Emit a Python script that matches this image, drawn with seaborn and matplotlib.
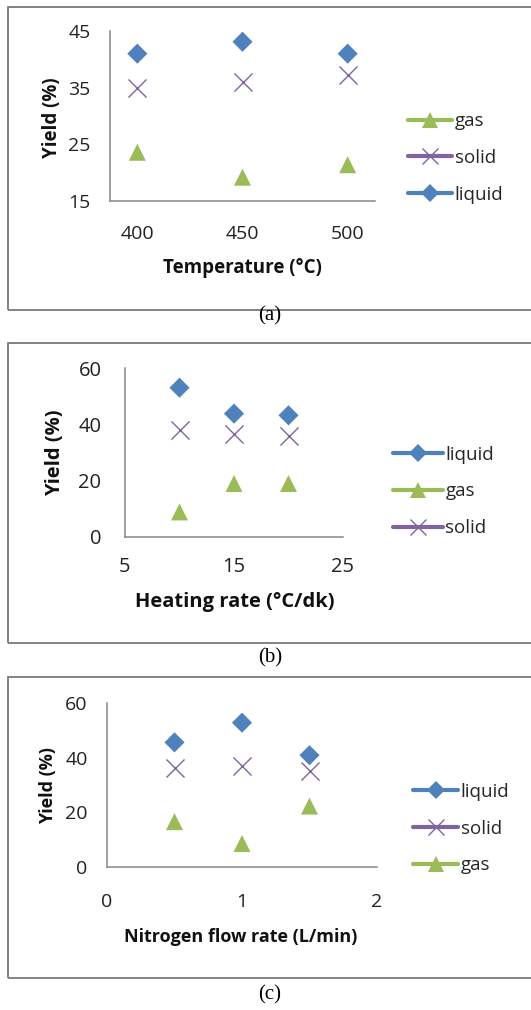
import numpy as np
import pandas as pd
import seaborn as sns
import matplotlib
matplotlib.use("Agg")
import matplotlib.pyplot as plt
from matplotlib.lines import Line2D
from matplotlib.patches import Rectangle

# ---------------- data ----------------
temp_x = [400, 450, 500]
temp_liquid = [41.0, 43.1, 41.0]
temp_solid = [35.0, 36.0, 37.2]
temp_gas = [23.6, 19.2, 21.4]

rate_x = [10, 15, 20]
rate_liquid = [53.0, 43.8, 43.2]
rate_solid = [37.9, 36.5, 35.7]
rate_gas = [8.9, 19.0, 19.0]

flow_x = [0.5, 1.0, 1.5]
flow_liquid = [45.6, 52.8, 40.9]
flow_solid = [36.3, 37.1, 35.2]
flow_gas = [16.6, 8.6, 22.3]

xlabels = ["Temperature (°C)", "Heating rate (°C/dk)", "Nitrogen flow rate (L/min)"]
ylabel = "Yield (%)"
captions = ["(a)", "(b)", "(c)"]
legend_orders = [["gas", "solid", "liquid"],
                 ["liquid", "gas", "solid"],
                 ["liquid", "solid", "gas"]]

# ---------------- style ----------------
sns.set_theme(style="white")
plt.rcParams["font.family"] = ["Open Sans", "DejaVu Sans"]

COL = {"liquid": "#4F81BD", "solid": "#8064A2", "gas": "#9BBB59"}
MARK = {"liquid": "D", "solid": "x", "gas": "^"}
SIZE = {"liquid": 105, "solid": 170, "gas": 150}
LMS = {"liquid": 9, "solid": 12, "gas": 11}
AXC = "#868686"

W, H = 531, 1010
fig = plt.figure(figsize=(W / 100, H / 100), dpi=100)

def frac_rect(left, right, top, bottom):
    return [left / W, 1 - bottom / H, (right - left) / W, (bottom - top) / H]

panels = [
    dict(rect=frac_rect(110, 375, 31, 201), x=temp_x,
         data={"liquid": temp_liquid, "solid": temp_solid, "gas": temp_gas},
         xlim=(387, 513), ylim=(15, 45), yticks=[15, 25, 35, 45],
         xticks_major=list(np.linspace(387, 513, 6)), xticks_lab=[400, 450, 500],
         frame=(8, 7, 310), cap_y=316, leg=(408, 158), hl=2.35, ylab=(52, 118),
         xlab=(242, 268), xlab_fs=13.5, tick_fs=14, xpad=12, ypad=9),
    dict(rect=frac_rect(125, 343, 368, 537), x=rate_x,
         data={"liquid": rate_liquid, "solid": rate_solid, "gas": rate_gas},
         xlim=(5, 25), ylim=(0, 60), yticks=[0, 20, 40, 60],
         xticks_major=[5, 15, 25], xticks_lab=[5, 15, 25],
         frame=(8, 343, 643), cap_y=658, leg=(393, 491.5), hl=2.65, ylab=(55, 453),
         xlab=(235, 602), xlab_fs=14.5, tick_fs=14.5, xpad=9.5, ypad=12),
    dict(rect=frac_rect(107, 377, 703, 867), x=flow_x,
         data={"liquid": flow_liquid, "solid": flow_solid, "gas": flow_gas},
         xlim=(0, 2), ylim=(0, 60), yticks=[0, 20, 40, 60],
         xticks_major=[0, 1, 2], xticks_lab=[0, 1, 2],
         frame=(8, 677, 978), cap_y=995, leg=(413, 828.5), hl=2.4, ylab=(48, 785),
         xlab=(241, 937), xlab_fs=13, tick_fs=14, xpad=13.5, ypad=9),
]

for i, p in enumerate(panels):
    # outer frame
    fx, ftop, fbot = p["frame"]
    fig.patches.append(Rectangle((fx / W, 1 - fbot / H), 1.2, (fbot - ftop) / H,
                                 transform=fig.transFigure, fill=False,
                                 edgecolor="#7a7a7a", linewidth=1.3, zorder=0))
    ax = fig.add_axes(p["rect"])
    ax.set_facecolor("none")
    for name in ["liquid", "solid", "gas"]:
        df = pd.DataFrame({"x": p["x"], "y": p["data"][name]})
        kw = dict(linewidth=1.0) if name == "solid" else dict(edgecolor="none")
        sns.scatterplot(data=df, x="x", y="y", ax=ax, color=COL[name],
                        marker=MARK[name], s=SIZE[name], legend=False,
                        clip_on=False, zorder=3, **kw)
    ax.set_xlim(*p["xlim"])
    ax.set_ylim(*p["ylim"])
    ax.set_yticks(p["yticks"])
    ax.set_yticklabels([str(v) for v in p["yticks"]])
    fs = p["tick_fs"]
    if i == 0:
        ax.set_xticks(p["xticks_major"])
        ax.set_xticklabels([""] * len(p["xticks_major"]))
        ax.set_xticks(p["xticks_lab"], minor=True)
        ax.set_xticklabels([str(v) for v in p["xticks_lab"]], minor=True)
        ax.tick_params(axis="x", which="minor", length=0, pad=p["xpad"] + 5,
                       labelsize=fs, labelcolor="#222222")
    else:
        ax.set_xticks(p["xticks_major"])
        ax.set_xticklabels([str(v) for v in p["xticks_lab"]])
    ax.tick_params(axis="both", which="major", direction="out", length=5,
                   width=1, color=AXC, labelsize=fs, labelcolor="#222222")
    ax.tick_params(axis="x", which="major", pad=p["xpad"])
    ax.tick_params(axis="y", which="major", pad=p["ypad"])
    for s in ["top", "right"]:
        ax.spines[s].set_visible(False)
    for s in ["left", "bottom"]:
        ax.spines[s].set_color(AXC)
        ax.spines[s].set_linewidth(1.1)
    ax.set_xlabel(xlabels[i], fontsize=p["xlab_fs"], fontweight="bold",
                  color="#111111")
    ax.xaxis.label.set_verticalalignment("center")
    ax.xaxis.set_label_coords(p["xlab"][0] / W, 1 - p["xlab"][1] / H,
                              transform=fig.transFigure)
    ax.set_ylabel(ylabel, fontsize=p["xlab_fs"], fontweight="bold",
                  color="#111111")
    ax.yaxis.label.set_verticalalignment("center")
    ax.yaxis.set_label_coords(p["ylab"][0] / W, 1 - p["ylab"][1] / H,
                              transform=fig.transFigure)
    # legend
    handles = [Line2D([], [], color=COL[n], lw=3, marker=MARK[n],
                      markersize=LMS[n],
                      markeredgewidth=(1.0 if n == "solid" else 0))
               for n in legend_orders[i]]
    lx, ly = p["leg"]
    ax.legend(handles, legend_orders[i], loc="center left",
              bbox_to_anchor=(lx / W, 1 - ly / H), bbox_transform=fig.transFigure,
              frameon=False, fontsize=13.5, handlelength=p["hl"], handletextpad=0.15,
              labelspacing=1.0, borderpad=0, borderaxespad=0)
    # caption
    fig.text(270 / W, 1 - p["cap_y"] / H, captions[i], ha="center", va="center",
             fontsize=15, family="Liberation Serif", color="black")

fig.savefig("out.png", dpi=100)
